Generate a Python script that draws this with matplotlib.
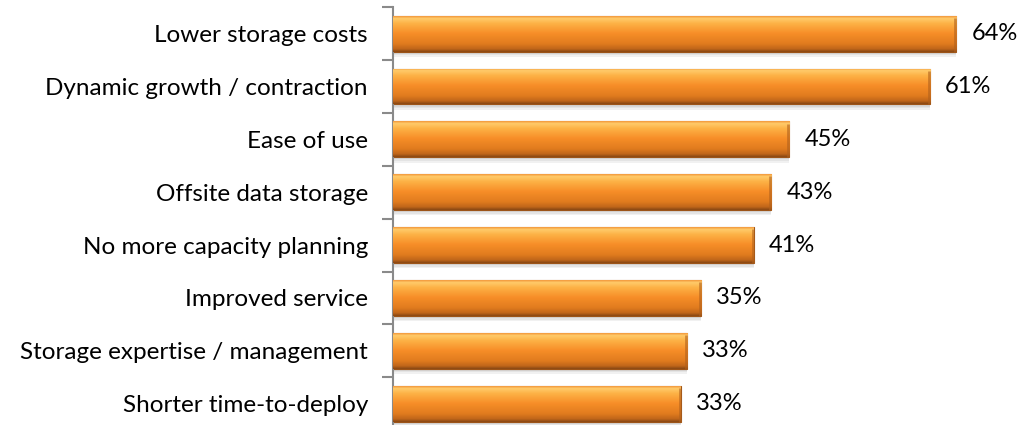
import matplotlib
matplotlib.use("Agg")
import matplotlib.pyplot as plt
import numpy as np
from matplotlib.colors import LinearSegmentedColormap

# ---- data ----
categories = ["Lower storage costs", "Dynamic growth / contraction", "Ease of use",
              "Offsite data storage", "No more capacity planning", "Improved service",
              "Storage expertise / management", "Shorter time-to-deploy"]
values = [64, 61, 45, 43, 41, 35, 33.4, 32.7]
value_labels = ["64%", "61%", "45%", "43%", "41%", "35%", "33%", "33%"]

plt.rcParams["font.family"] = ["Lato", "DejaVu Sans"]

fig = plt.figure(figsize=(10.34, 4.25), dpi=100)
ax = fig.add_axes([0.380, -0.012, 0.613, 0.995])

y = np.arange(len(categories))
BAR_H = 0.68

# soft shadow under each bar
for k, a in [(0.10, 0.10), (0.07, 0.10), (0.04, 0.12)]:
    ax.barh(y + k, values, height=BAR_H, color="#7a7a7a", alpha=a, linewidth=0, zorder=1)

bars = ax.barh(y, values, height=BAR_H, color="#F7922F", edgecolor="#9C5418",
               linewidth=0.8, zorder=2)

# vertical bevel gradient, top -> bottom
grad = LinearSegmentedColormap.from_list("bevel", [
    (0.00, "#F39A3E"), (0.06, "#FFCB6A"), (0.20, "#FDB246"),
    (0.48, "#F78E28"), (0.78, "#E07B1E"), (0.92, "#C0661A"), (1.00, "#8A4914")])
g = np.linspace(0, 1, 64).reshape(-1, 1)
for b in bars:
    x0, yc0 = b.get_x(), b.get_y()
    w, h = b.get_width(), b.get_height()
    im = ax.imshow(g, cmap=grad, aspect="auto", origin="upper",
                   extent=(x0, x0 + w, yc0 + h, yc0), zorder=3, interpolation="bilinear")
    im.set_clip_path(b)
    # darker right cap
    ax.plot([x0 + w - 0.12, x0 + w - 0.12], [yc0 + 0.04, yc0 + h], color="#B0601C",
            lw=2.0, alpha=0.6, zorder=4, solid_capstyle="butt")

ax.bar_label(bars, labels=value_labels, padding=11, fontsize=17, color="black")

ax.set_xlim(0, 72)
ax.set_ylim(len(categories) - 0.5, -0.5)
ax.set_yticks(y)
ax.set_yticklabels(categories, fontsize=17.5, color="black")
ax.set_yticks(np.arange(len(categories) + 1) - 0.5, minor=True)
ax.tick_params(axis="y", which="major", length=0, pad=18)
ax.tick_params(axis="y", which="minor", length=8, width=1.5, color="#8a8a8a")
ax.set_xticks([])
for s in ["top", "right", "bottom"]:
    ax.spines[s].set_visible(False)
ax.spines["left"].set_color("#8a8a8a")
ax.spines["left"].set_linewidth(1.5)
ax.set_facecolor("none")

fig.savefig("out.png", dpi=100, facecolor="white")
